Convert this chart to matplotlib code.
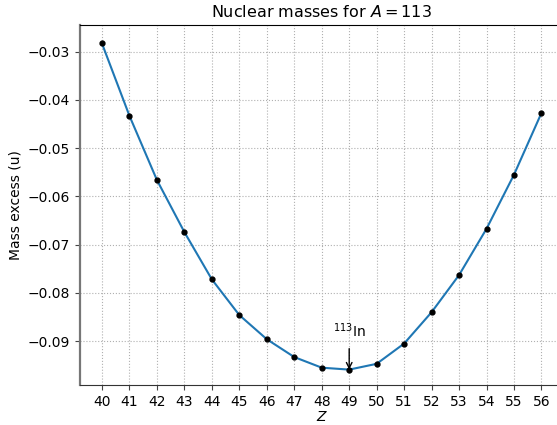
import matplotlib
matplotlib.use("Agg")
import matplotlib.pyplot as plt

# proton number Z and mass excess (u) for isobars with A = 113
z_values = [40, 41, 42, 43, 44, 45, 46, 47, 48, 49, 50, 51, 52, 53, 54, 55, 56]
mass_excess = [-0.0283, -0.0433, -0.0566, -0.0674, -0.0772, -0.0846, -0.0896,
               -0.0933, -0.0955, -0.0959, -0.0947, -0.0905, -0.0840, -0.0763,
               -0.0667, -0.0555, -0.0427]
stable_z = 49
stable_label = r"$^{113}$In"

fig = plt.figure(figsize=(5.57, 4.25), dpi=100)
ax = fig.add_axes([0.1436, 0.094, 0.868, 0.847])

ax.plot(z_values, mass_excess, color="#1f77b4", lw=1.5, zorder=2)
ax.plot(z_values, mass_excess, "o", color="black", ms=3.5, zorder=3)

y_min = mass_excess[z_values.index(stable_z)]
ax.annotate(stable_label, xy=(stable_z, y_min), xytext=(stable_z, -0.0879),
            ha="center", va="center", fontsize=10,
            arrowprops=dict(arrowstyle="->", color="black", lw=1, shrinkA=4, shrinkB=0))

ax.set_xticks(z_values)
ax.set_yticks([-0.03, -0.04, -0.05, -0.06, -0.07, -0.08, -0.09])
ax.set_xlim(39.2, 56.8)
ax.set_ylim(-0.0991, -0.0245)
ax.grid(True, ls=":", color="#b0b0b0", lw=0.8)
ax.tick_params(labelsize=10, length=3.5, color="#444444")

ax.spines["left"].set_color("#777777")
ax.spines["left"].set_linewidth(1.6)
ax.spines["bottom"].set_color("#333333")
ax.spines["top"].set_color("black")
ax.spines["right"].set_visible(False)

ax.set_title(r"Nuclear masses for $A = 113$", fontsize=11.5)
ax.set_xlabel(r"$Z$", fontsize=10, labelpad=1)
ax.set_ylabel("Mass excess (u)", fontsize=10)

fig.savefig("out.png", dpi=100)
